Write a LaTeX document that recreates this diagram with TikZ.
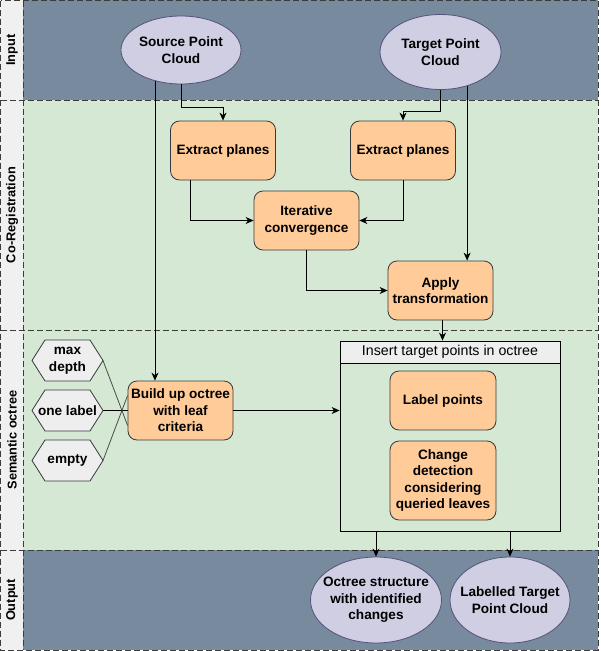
\documentclass[tikz,border=0pt]{standalone}
\usepackage{fontspec}
\setmainfont{Liberation Sans}
\usetikzlibrary{shapes.geometric,arrows.meta,calc}
\definecolor{slate}{RGB}{120,138,158}
\definecolor{lanegreen}{RGB}{213,232,212}
\definecolor{labelgray}{RGB}{240,240,240}
\definecolor{boxfill}{RGB}{255,204,153}
\definecolor{boxline}{RGB}{54,57,61}
\definecolor{ellfill}{RGB}{208,206,226}
\definecolor{ellline}{RGB}{86,81,126}
\definecolor{hexfill}{RGB}{238,238,238}
\definecolor{dashgray}{RGB}{60,60,60}
\tikzset{
  boxfont/.style={font=\fontsize{13.6}{16.5}\selectfont\bfseries},
  procbox/.style={boxfont, draw=boxline, fill=boxfill, rounded corners=9pt, minimum width=105pt, minimum height=59pt, align=center, inner sep=1pt, line width=0.8pt},
  cloud/.style={ellipse, draw=ellline, fill=ellfill, inner sep=0pt, line width=0.8pt},
  cloudtext/.style={label={[boxfont, align=center, inner sep=0pt]center:{#1}}},
  lanelabel/.style={font=\fontsize{12.8}{15}\selectfont\bfseries, rotate=90},
  hexlabel/.style={boxfont, align=center, inner sep=0pt, minimum width=71pt, minimum height=41pt},
  lanesep/.style={draw=dashgray, dash pattern=on 6pt off 3pt, line width=0.8pt},
  conn/.style={draw=black, line width=0.8pt, -{Stealth[length=8pt,width=7pt,inset=2.5pt]}},
  plainconn/.style={draw=black!70, line width=0.8pt},
}
\begin{document}
\begin{tikzpicture}[x=1pt,y=-1pt]
\useasboundingbox (0,0) rectangle (601,651);
% lanes
\fill[slate] (23,0) rectangle (598,100);
\fill[lanegreen] (23,100) rectangle (598,330);
\fill[lanegreen] (23,330) rectangle (598,550);
\fill[slate] (23,550) rectangle (598,650);
\fill[labelgray] (0,0) rectangle (23,650);
% lane borders
\draw[lanesep] (0.5,0.5) rectangle (598,650);
\draw[lanesep] (23,0.5) -- (23,650);
\draw[lanesep] (0.5,100) -- (598,100);
\draw[lanesep] (0.5,330) -- (598,330);
\draw[lanesep] (0.5,550) -- (598,550);
% lane labels
\node[lanelabel] (lInput) at (12,50) {Input};
\node[lanelabel] (lCoreg) at (12,215) {Co-Registration};
\node[lanelabel] (lSem) at (12,440) {Semantic octree};
\node[lanelabel] (lOut) at (12,600) {Output};
% input
\node[cloud, minimum width=120pt, minimum height=68pt, cloudtext={Source Point\\Cloud}] (src) at (181,50) {};
\node[cloud, minimum width=121pt, minimum height=75pt, cloudtext={Target Point\\Cloud}] (tgt) at (440.5,52) {};
% co-registration
\node[procbox] (exl) at (223,150.5) {Extract planes};
\node[procbox] (exr) at (403,150.5) {Extract planes};
\node[procbox] (itc) at (306.5,220.5) {Iterative\\convergence};
\node[procbox] (app) at (440.5,290.5) {Apply\\transformation};
% semantic octree
\node[procbox] (bld) at (180.5,410.5) {Build up octree\\with leaf\\criteria};
\foreach \n/\cy/\t in {hmax/360.5/{max\\depth}, hone/410.5/{one label}, hemp/460.5/{empty}}{
  \fill[hexfill] (32,\cy) -- (45,\cy-20.5) -- (90,\cy-20.5) -- (103,\cy) -- (90,\cy+20.5) -- (45,\cy+20.5) -- cycle;
  \draw[boxline, line width=0.8pt] (32,\cy) -- (45,\cy-20.5) -- (90,\cy-20.5) -- (103,\cy) -- (90,\cy+20.5) -- (45,\cy+20.5) -- cycle;
  \node[hexlabel] (\n) at (67.5,\cy) {\t};
}
% container
\node[draw=black, line width=0.8pt, minimum width=220pt, minimum height=190pt, inner sep=0pt] (cont) at (450,436) {};
\node[draw=black, fill=hexfill, line width=0.8pt, minimum width=220pt, minimum height=22pt, inner sep=0pt, font=\fontsize{14.2}{17}\selectfont] (conthead) at (450,352) {Insert target points in octree};
\node[procbox, minimum width=106pt] (lbl) at (443,400.5) {Label points};
\node[procbox, minimum width=106pt, minimum height=79pt] (chg) at (443,480.5) {Change\\detection\\considering\\queried leaves};
% outputs
\node[cloud, minimum width=131pt, minimum height=86pt, cloudtext={Octree structure\\with identified\\changes}] (oct) at (376,600) {};
\node[cloud, minimum width=120pt, minimum height=86pt, cloudtext={Labelled Target\\Point Cloud}] (ltp) at (510,600) {};
% connectors
\draw[conn] (src.south) -- ++(0,23) -| (exl.north);
\draw[conn] (src.230) -- (src.230 |- bld.north);
\draw[conn] (tgt.south) -- ++(0,21) -| (exr.north);
\draw[conn] (tgt.-52) -- (tgt.-52 |- app.north);
\draw[conn] ([xshift=-33pt]exl.south) |- (itc.west);
\draw[conn] (exr.south) |- (itc.east);
\draw[conn] (itc.south) |- (app.west);
\draw[conn] ([xshift=2pt]app.south) -- ([xshift=2pt]app.south |- cont.north);
\draw[conn] (bld.east) -- (bld.east -| cont.west);
\draw[conn] (oct.north |- cont.south) -- (oct.north);
\draw[conn] (ltp.north |- cont.south) -- (ltp.north);
\draw[plainconn] (103,360.5) -- ([yshift=-15pt]bld.west);
\draw[plainconn, draw=black] (hone.east) -- (bld.west);
\draw[plainconn] (103,460.5) -- ([yshift=15pt]bld.west);
\end{tikzpicture}
\end{document}
